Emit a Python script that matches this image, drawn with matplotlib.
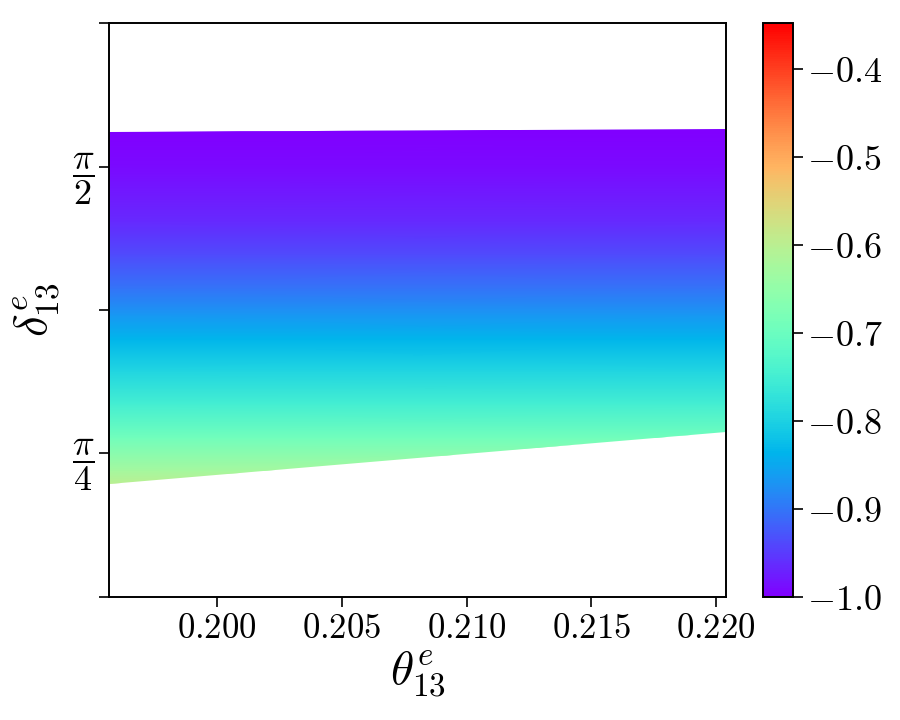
import numpy as np
import matplotlib
matplotlib.use("Agg")
import matplotlib.pyplot as plt
from matplotlib.patches import Polygon

plt.rcParams['mathtext.fontset'] = 'cm'
plt.rcParams['font.family'] = 'serif'
plt.rcParams['font.serif'] = ['DejaVu Serif']

# Region boundaries (theta13 ends, delta13 at top/bottom edges)
theta_ends = [0.19567, 0.22040]
delta_top = [1.6650, 1.6725]
delta_bottom = [0.701, 0.8427]

# Colour value as a function of delta13
delta_levels = [0.690, 0.701, 0.739, 0.829, 0.922, 1.012, 1.099, 1.167,
                1.238, 1.331, 1.421, 1.571, 1.663, 1.680]
color_vals = [-0.592, -0.598, -0.627, -0.693, -0.748, -0.795, -0.836, -0.868,
              -0.902, -0.937, -0.966, -0.992, -1.000, -1.000]

vmin, vmax = -1.0, -0.348

cb_ticks = [-1.0, -0.9, -0.8, -0.7, -0.6, -0.5, -0.4]
x_ticks = [0.200, 0.205, 0.210, 0.215, 0.220]
y_ticks = [np.pi / 8, np.pi / 4, 3 * np.pi / 8, np.pi / 2, 5 * np.pi / 8]
y_ticklabels = ['', r'$\dfrac{\pi}{4}$', '', r'$\dfrac{\pi}{2}$', '']

fig = plt.figure(figsize=(9, 7.2), dpi=100)
ax = fig.add_axes([0.121, 0.171, 0.686, 0.797])
cax = fig.add_axes([0.848, 0.171, 0.033, 0.797])

X, Y = np.meshgrid(theta_ends, delta_levels)
C = np.tile(np.array(color_vals)[:, None], (1, len(theta_ends)))
mesh = ax.pcolormesh(X, Y, C, cmap='rainbow', vmin=vmin, vmax=vmax,
                     shading='gouraud', rasterized=True)
poly = Polygon([(theta_ends[0], delta_bottom[0]), (theta_ends[1], delta_bottom[1]),
                (theta_ends[1], delta_top[1]), (theta_ends[0], delta_top[0])],
               closed=True, facecolor='none', edgecolor='none',
               transform=ax.transData)
ax.add_patch(poly)
mesh.set_clip_path(poly)

ax.set_xlim(theta_ends[0], theta_ends[1])
ax.set_ylim(np.pi / 8, 5 * np.pi / 8)
ax.set_xticks(x_ticks)
ax.set_xticklabels([r'$%.3f$' % v for v in x_ticks])
ax.set_yticks(y_ticks)
ax.set_yticklabels(y_ticklabels)
ax.tick_params(axis='both', labelsize=25, length=7, width=1.2)
ax.tick_params(axis='y', labelsize=26)
for s in ax.spines.values():
    s.set_linewidth(1.4)
ax.set_xlabel(r'$\theta^{e}_{13}$', fontsize=34, labelpad=2)
ax.set_ylabel(r'$\delta^{e}_{13}$', fontsize=34, labelpad=8)

cb = fig.colorbar(mesh, cax=cax)
cb.set_ticks(cb_ticks)
cb.set_ticklabels([r'$%.1f$' % v for v in cb_ticks])
cax.tick_params(labelsize=26, length=7, width=1.2)
cb.outline.set_linewidth(1.4)

fig.savefig('out.png', dpi=100)
